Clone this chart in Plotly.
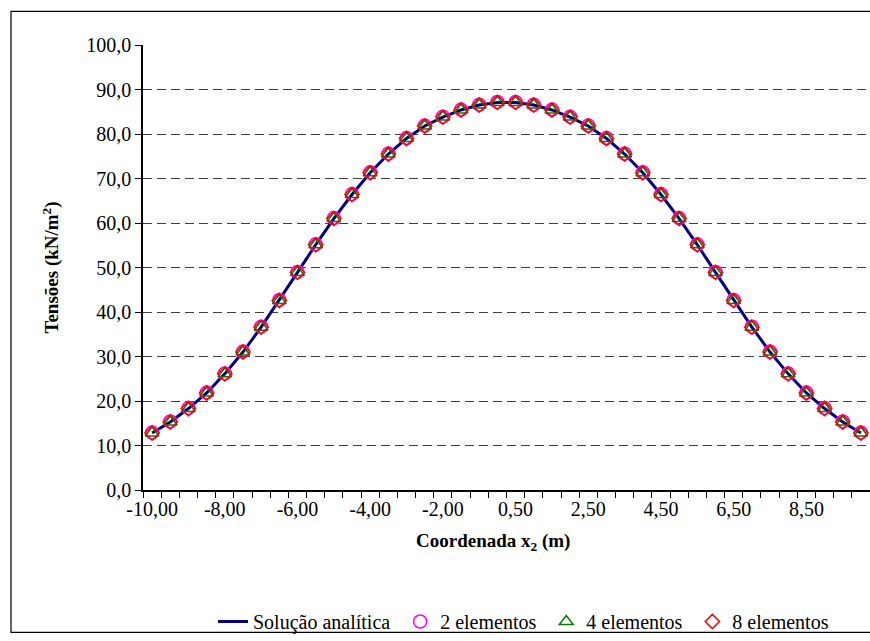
import plotly.graph_objects as go

# ---- data ----
x_coords = [-10.0, -9.5, -9.0, -8.5, -8.0, -7.5, -7.0, -6.5, -6.0, -5.5,
            -5.0, -4.5, -4.0, -3.5, -3.0, -2.5, -2.0, -1.5, -1.0, -0.5,
            0.5, 1.0, 1.5, 2.0, 2.5, 3.0, 3.5, 4.0, 4.5, 5.0,
            5.5, 6.0, 6.5, 7.0, 7.5, 8.0, 8.5, 9.0, 9.5, 10.0]

analitica = [12.8, 15.3, 18.3, 21.8, 26.1, 31.0, 36.6, 42.6, 48.9, 55.1,
             61.0, 66.4, 71.3, 75.5, 79.0, 81.8, 83.8, 85.4, 86.5, 87.1,
             87.1, 86.5, 85.4, 83.8, 81.8, 79.0, 75.5, 71.3, 66.4, 61.0,
             55.1, 48.9, 42.6, 36.6, 31.0, 26.1, 21.8, 18.3, 15.3, 12.8]

elem2 = [12.9, 15.4, 18.4, 21.9, 26.2, 31.1, 36.7, 42.7, 49.0, 55.2,
         61.1, 66.5, 71.4, 75.6, 79.1, 81.9, 83.9, 85.5, 86.6, 87.2,
         87.2, 86.6, 85.5, 83.9, 81.9, 79.1, 75.6, 71.4, 66.5, 61.1,
         55.2, 49.0, 42.7, 36.7, 31.1, 26.2, 21.9, 18.4, 15.4, 12.9]

elem4 = [12.8, 15.3, 18.3, 21.8, 26.1, 31.0, 36.6, 42.6, 48.9, 55.1,
         61.0, 66.4, 71.3, 75.5, 79.0, 81.8, 83.8, 85.4, 86.5, 87.1,
         87.1, 86.5, 85.4, 83.8, 81.8, 79.0, 75.5, 71.3, 66.4, 61.0,
         55.1, 48.9, 42.6, 36.6, 31.0, 26.1, 21.8, 18.3, 15.3, 12.8]

elem8 = [12.8, 15.3, 18.3, 21.8, 26.1, 31.0, 36.6, 42.6, 48.9, 55.1,
         61.0, 66.4, 71.3, 75.5, 79.0, 81.8, 83.8, 85.4, 86.5, 87.1,
         87.1, 86.5, 85.4, 83.8, 81.8, 79.0, 75.5, 71.3, 66.4, 61.0,
         55.1, 48.9, 42.6, 36.6, 31.0, 26.1, 21.8, 18.3, 15.3, 12.8]

label_every = 4

# category labels in Portuguese number format
categories = [f"{v:.2f}".replace(".", ",") for v in x_coords]
tick_text = [c if i % label_every == 0 else "" for i, c in enumerate(categories)]

FONT = "Liberation Serif, Times New Roman, serif"
NB = "\u00a0"

fig = go.Figure()
fig.add_trace(go.Scatter(x=categories, y=analitica, mode="lines",
                         name="Solução analítica" + NB,
                         line=dict(color="#000080", width=3)))
fig.add_trace(go.Scatter(x=categories, y=elem2, mode="markers",
                         name="2 elementos" + NB,
                         marker=dict(symbol="circle-open", size=13,
                                     color="#FF00FF", line=dict(width=1.5))))
fig.add_trace(go.Scatter(x=categories, y=elem4, mode="markers",
                         name="4 elementos" + NB,
                         marker=dict(symbol="triangle-up-open", size=12,
                                     color="#008000", line=dict(width=1.5))))
fig.add_trace(go.Scatter(x=categories, y=elem8, mode="markers",
                         name="8 elementos",
                         marker=dict(symbol="diamond-open", size=11,
                                     color="#FF0000", line=dict(width=1.5))))

L, T, B = 143, 45, 146
W, H = 870, 641
pw = W - L
ph = H - T - B

def px_x(p):
    return (p - L) / pw

def px_y(p):
    return (H - B - p) / ph

fig.update_layout(
    width=W, height=H,
    margin=dict(l=L, r=0, t=T, b=B, pad=0),
    paper_bgcolor="white", plot_bgcolor="white",
    separators=", ",
    font=dict(family=FONT, size=20, color="black"),
    showlegend=True,
    legend=dict(orientation="h", x=px_x(213), y=px_y(628),
                xanchor="left", yanchor="middle",
                font=dict(family=FONT, size=20, color="black"),
                itemwidth=30, tracegroupgap=0, bgcolor="rgba(0,0,0,0)"),
    xaxis=dict(type="category", categoryorder="array", categoryarray=categories,
               tickmode="array", tickvals=categories, ticktext=tick_text,
               tickson="boundaries", ticks="outside", ticklen=6,
               tickcolor="black", tickwidth=1,
               showline=True, linecolor="black", linewidth=1.5,
               showgrid=False, zeroline=False, tickangle=0,
               range=[-0.5, len(categories) - 0.5],
               tickfont=dict(family=FONT, size=20)),
    yaxis=dict(range=[0, 100], dtick=10, tick0=0, tickformat=".1f",
               ticks="outside", ticklen=6, tickcolor="black",
               showline=True, linecolor="black", linewidth=1.5,
               showgrid=True, gridcolor="#404040", gridwidth=1,
               griddash="9px,5px", zeroline=False,
               tickfont=dict(family=FONT, size=20)),
    shapes=[dict(type="rect", xref="paper", yref="paper",
                 x0=px_x(11), x1=px_x(900), y0=px_y(11), y1=px_y(639),
                 line=dict(color="black", width=1.2), fillcolor="rgba(0,0,0,0)",
                 layer="below")],
    annotations=[
        dict(text="<b>Tensões (kN/m<sup>2</sup>)</b>", xref="paper", yref="paper",
             x=px_x(51), y=px_y(270), showarrow=False, textangle=-90,
             xanchor="center", yanchor="middle",
             font=dict(family=FONT, size=19, color="black")),
        dict(text="<b>Coordenada x<sub>2</sub> (m)</b>", xref="paper", yref="paper",
             x=px_x(493), y=px_y(548), showarrow=False,
             xanchor="center", yanchor="middle",
             font=dict(family=FONT, size=19, color="black")),
    ],
)

fig.write_html("out.html")
